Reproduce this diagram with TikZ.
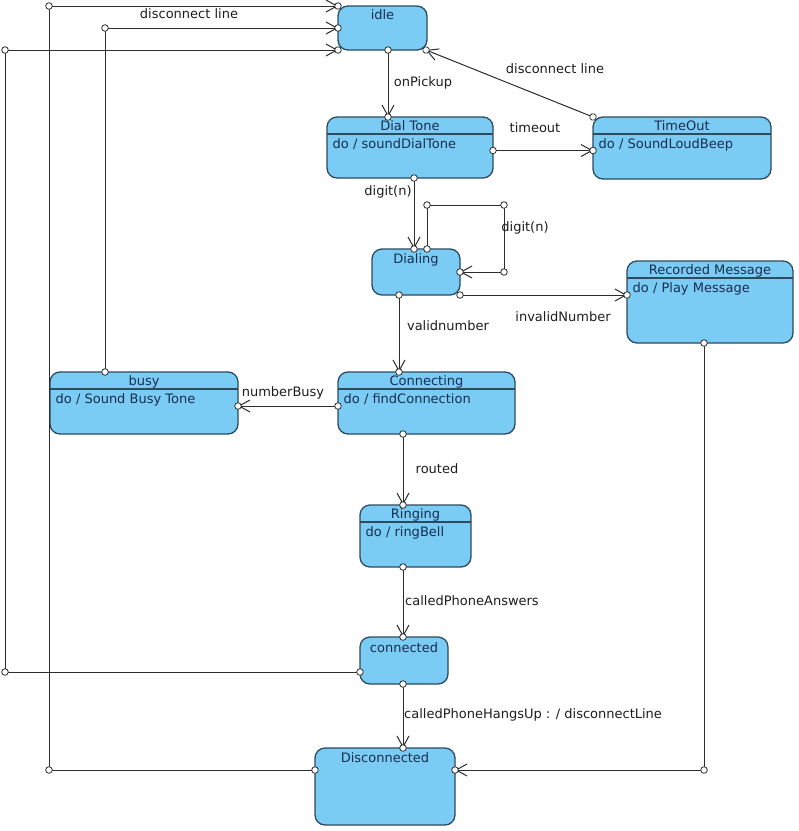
\documentclass[tikz,border=0pt]{standalone}
\usepackage{fontspec}
\setmainfont{DejaVu Sans}
\usetikzlibrary{arrows.meta,decorations.markings,calc}
\definecolor{statefill}{RGB}{122,204,244}
\definecolor{stateedge}{RGB}{46,74,94}
\definecolor{statetext}{RGB}{25,45,80}
\definecolor{linec}{RGB}{45,45,45}
\definecolor{labelc}{RGB}{30,30,30}
\begin{document}
\begin{tikzpicture}[x=1pt,y=-1pt,
 state/.style={draw=stateedge, fill=statefill, line width=1.3pt, rounded corners=10pt, inner sep=0pt, outer sep=0pt},
 ttl/.style={text=statetext, inner sep=0pt, text height=9.4pt, text depth=0pt, font=\fontsize{13}{15}\selectfont},
 body/.style={ttl, anchor=west},
 lbl/.style={text=labelc, inner sep=0pt, text height=9.4pt, text depth=0pt, font=\fontsize{13}{15}\selectfont},
 sepline/.style={draw=stateedge, line width=1.1pt},
 pt/.style={draw=linec, fill=white, line width=0.8pt},
 tr/.style={draw=linec, line width=1pt, -{Straight Barb[length=11pt,width=12pt]},
   postaction={decorate, decoration={markings,
     mark=at position 0 with {\draw[pt] (0,0) circle[radius=3.3pt];},
     mark=at position 1 with {\draw[pt] (0,0) circle[radius=3.3pt];}}}},
]
\fill[white] (0,0) rectangle (799,831);
\useasboundingbox (0,0) rectangle (799,831);

% states
\node[state, minimum width=89pt, minimum height=44pt] (idle) at (382.5,28) {};
\node[ttl] (idle-t) at ([yshift=-9pt]idle.north) {idle};

\node[state, minimum width=166pt, minimum height=61pt] (dial) at (410,147.5) {};
\draw[sepline] ([yshift=-17pt]dial.north west) -- ([yshift=-17pt]dial.north east);
\node[ttl] (dial-t) at ([yshift=-8.5pt]dial.north) {Dial Tone};
\node[body] (dial-b) at ([xshift=5.5pt,yshift=-27pt]dial.north west) {do / soundDialTone};

\node[state, minimum width=178pt, minimum height=62pt] (timeout) at (682,148) {};
\draw[sepline] ([yshift=-17pt]timeout.north west) -- ([yshift=-17pt]timeout.north east);
\node[ttl] (timeout-t) at ([yshift=-8.5pt]timeout.north) {TimeOut};
\node[body] (timeout-b) at ([xshift=5.5pt,yshift=-27pt]timeout.north west) {do / SoundLoudBeep};

\node[state, minimum width=88pt, minimum height=46pt] (dialing) at (416,272) {};
\node[ttl] (dialing-t) at ([yshift=-10pt]dialing.north) {Dialing};

\node[state, minimum width=166pt, minimum height=82pt] (recorded) at (710,302) {};
\draw[sepline] ([yshift=-17pt]recorded.north west) -- ([yshift=-17pt]recorded.north east);
\node[ttl] (recorded-t) at ([yshift=-9pt]recorded.north) {Recorded Message};
\node[body] (recorded-b) at ([xshift=5.5pt,yshift=-27pt]recorded.north west) {do / Play Message};

\node[state, minimum width=177pt, minimum height=62pt] (connecting) at (426.5,403) {};
\draw[sepline] ([yshift=-17pt]connecting.north west) -- ([yshift=-17pt]connecting.north east);
\node[ttl] (connecting-t) at ([yshift=-9pt]connecting.north) {Connecting};
\node[body] (connecting-b) at ([xshift=5.5pt,yshift=-26.5pt]connecting.north west) {do / findConnection};

\node[state, minimum width=188pt, minimum height=62pt] (busy) at (144,403) {};
\draw[sepline] ([yshift=-17pt]busy.north west) -- ([yshift=-17pt]busy.north east);
\node[ttl] (busy-t) at ([yshift=-9pt]busy.north) {busy};
\node[body] (busy-b) at ([xshift=5.5pt,yshift=-26.5pt]busy.north west) {do / Sound Busy Tone};

\node[state, minimum width=111pt, minimum height=62pt] (ringing) at (415.5,536) {};
\draw[sepline] ([yshift=-17pt]ringing.north west) -- ([yshift=-17pt]ringing.north east);
\node[ttl] (ringing-t) at ([yshift=-9pt]ringing.north) {Ringing};
\node[body] (ringing-b) at ([xshift=5.5pt,yshift=-26.5pt]ringing.north west) {do / ringBell};

\node[state, minimum width=88pt, minimum height=47pt] (connected) at (404,660.5) {};
\node[ttl] (connected-t) at ([yshift=-11pt]connected.north) {connected};

\node[state, minimum width=140pt, minimum height=77pt] (disc) at (385,786.5) {};
\node[ttl] (disc-t) at ([yshift=-10pt]disc.north) {Disconnected};

% helper coordinates
\coordinate (lp) at (504,205);
\coordinate (lpS) at ([xshift=11pt]dialing.north);
\coordinate (dtR) at ([yshift=-3pt]dial.east);
\coordinate (cbL) at ([yshift=-3pt]connecting.west);
\coordinate (dR) at ([yshift=16.5pt]disc.east);
\coordinate (dL) at ([yshift=16.5pt]disc.west);
\coordinate (tl) at (49,6);
\coordinate (cL) at ([yshift=-11.5pt]connected.west);
\coordinate (ml) at (5,50);

% transitions
\draw[tr] ([xshift=5.5pt]idle.south) -- ([xshift=5.5pt]idle.south |- dial.north);
\draw[tr] (dtR) -- (dtR -| timeout.west);
\draw[tr] (timeout.north west) -- ([xshift=-1pt]idle.south east);
\draw[tr] ([xshift=4pt]dial.south) -- ([xshift=4pt]dial.south |- dialing.north);
\draw[tr] (lpS) |- (lp) |- (dialing.east);
\draw[tr] (dialing.south east) -- (dialing.south east -| recorded.west);
\draw[tr] ([xshift=-17pt]dialing.south) -- ([xshift=-17pt]dialing.south |- connecting.north);
\draw[tr] (cbL) -- (cbL -| busy.east);
\draw[tr] ([xshift=-23.5pt]connecting.south) -- ([xshift=-23.5pt]connecting.south |- ringing.north);
\draw[tr] ([xshift=-12.5pt]ringing.south) -- ([xshift=-12.5pt]ringing.south |- connected.north);
\draw[tr] ([xshift=-1pt]connected.south) -- ([xshift=-1pt]connected.south |- disc.north);
\draw[tr] ([xshift=-6pt]recorded.south) |- (dR);
\draw[tr] (dL) -| (tl) -- (idle.north west);
\draw[tr] ([xshift=-39pt]busy.north) |- (idle.west);
\draw[tr] (cL) -| (ml) -- (idle.south west);

% bend points
\draw[pt] (lpS |- lp) circle[radius=3.3pt];
\draw[pt] (lp) circle[radius=3.3pt];
\draw[pt] (lp |- dialing.east) circle[radius=3.3pt];
\draw[pt] ([xshift=-6pt]recorded.south |- dR) circle[radius=3.3pt];
\draw[pt] (dL -| tl) circle[radius=3.3pt];
\draw[pt] (tl) circle[radius=3.3pt];
\draw[pt] ([xshift=-39pt]busy.north |- idle.west) circle[radius=3.3pt];
\draw[pt] (cL -| ml) circle[radius=3.3pt];
\draw[pt] (ml) circle[radius=3.3pt];

% labels
\node[lbl] (l-dc1) at (189,14) {disconnect line};
\node[lbl] (l-op) at (423,82) {onPickup};
\node[lbl] (l-to) at (535,128) {timeout};
\node[lbl] (l-dc2) at (555,69) {disconnect line};
\node[lbl] (l-d1) at (388,191) {digit(n)};
\node[lbl] (l-d2) at (525,227) {digit(n)};
\node[lbl] (l-in) at (563,317) {invalidNumber};
\node[lbl] (l-vn) at (448,326) {validnumber};
\node[lbl] (l-nb) at (283,392) {numberBusy};
\node[lbl] (l-ro) at (437,469) {routed};
\node[lbl] (l-ca) at (472,601) {calledPhoneAnswers};
\node[lbl, anchor=west] (l-ch) at (404,714) {calledPhoneHangsUp : / disconnectLine};
\end{tikzpicture}
\end{document}
